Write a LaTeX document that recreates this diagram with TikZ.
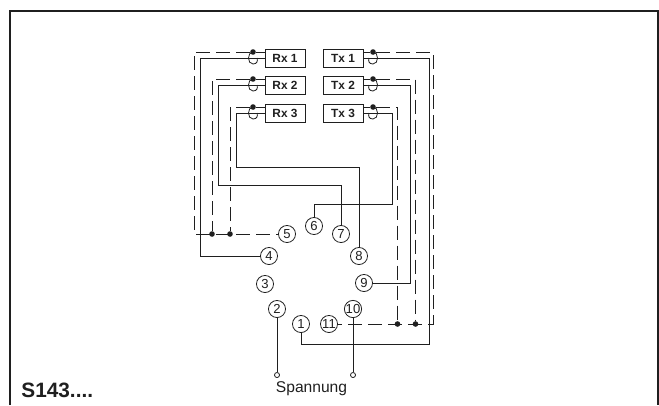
\documentclass[tikz,border=0pt]{standalone}
\usepackage{fontspec}
\setmainfont{Liberation Sans}

\begin{document}
\begin{tikzpicture}[x=.75pt,y=-.75pt,line width=.6pt,color=black!88,
   chan/.style={draw,minimum width=30pt,minimum height=13.5pt,inner sep=0pt,font=\fontsize{8.9}{10}\selectfont\bfseries},
   pin/.style={draw,circle,minimum size=12.8pt,inner sep=0pt,font=\fontsize{9.8}{10}\selectfont},
   term/.style={draw,circle,minimum size=3.8pt,inner sep=0pt},
   dot/.style={fill,circle,minimum size=4.2pt,inner sep=0pt},
   shield/.style={dash pattern=on 10.5pt off 4.5pt}]
   \useasboundingbox (0,0) rectangle (659,405);

   \node[chan] (rx1) at (285,58) {Rx 1};
   \node[chan] (rx2) at (285,85.5) {Rx 2};
   \node[chan] (rx3) at (285,113) {Rx 3};
   \node[chan] (tx1) at (343,58) {Tx 1};
   \node[chan] (tx2) at (343,85.5) {Tx 2};
   \node[chan] (tx3) at (343,113) {Tx 3};

   \node[pin] (c1) at (301,324) {1};
   \node[pin] (c2) at (277,309) {2};
   \node[pin] (c3) at (265,284) {3};
   \node[pin] (c4) at (269,256) {4};
   \node[pin] (c5) at (287,234) {5};
   \node[pin] (c6) at (314,226) {6};
   \node[pin] (c7) at (341,234) {7};
   \node[pin] (c8) at (359,256) {8};
   \node[pin] (c9) at (364,283) {9};
   \node[pin] (c10) at (353,309) {10};
   \node[pin] (c11) at (329,324) {11};

   \node[term] (t2) at (277,375) {};
   \node[term] (t10) at (353,375) {};
   \node[anchor=base,inner sep=0pt,font=\fontsize{11.7}{13}\selectfont] (volt) at (311.5,392) {Spannung};
   \node[anchor=base west,inner sep=0pt,font=\fontsize{15.6}{17}\selectfont\bfseries] (type) at (21,397) {S143....};

   \node[dot] (s1) at (253,52) {};
   \node[dot] (s2) at (253,79) {};
   \node[dot] (s3) at (253,107) {};
   \node[dot] (q1) at (373,52) {};
   \node[dot] (q2) at (373,79) {};
   \node[dot] (q3) at (373,107) {};
   \node[dot] (j2) at (212,234) {};
   \node[dot] (j3) at (230,234) {};
   \node[dot] (j9) at (397.5,324) {};
   \node[dot] (j10) at (415.5,324) {};

   \coordinate (k4) at (200,256);
   \coordinate (k5) at (194,234);
   \coordinate (k7) at (218,185);
   \coordinate (k8) at (236,167);
   \coordinate (k6) at (392,204);
   \coordinate (k9) at (410,283);
   \coordinate (k1) at (429,344);
   \coordinate (k11) at (433,324);
   \coordinate (f1) at (10,405);
   \coordinate (f2) at (10,11);
   \coordinate (f3) at (658,11);
   \coordinate (f4) at (658,405);

   % frame, open at the bottom
   \draw[line width=.8pt] (f1) -- (f2) -- (f3) -- (f4);

   % signal wires
   \draw (rx1) -| (k4) -- (c4);
   \draw (rx2) -| (k7) -| (c7);
   \draw (rx3) -| (k8) -| (c8);
   \draw (tx1) -| (k1) -| (c1);
   \draw (tx2) -| (k9) -- (c9);
   \draw (tx3) -| (k6) -| (c6);
   \draw (c2) -- (t2);
   \draw (c10) -- (t10);

   % shields
   \draw[shield] (s1) -| (k5) -- (c5);
   \draw[shield] (s2) -| (j2);
   \draw[shield] (s3) -| (j3);
   \draw[shield] (q1) -| (k11) -- (c11);
   \draw[shield] (q2) -| (j10);
   \draw[shield] (q3) -| (j9);
   \draw (s1) -- (s1 -| rx1.west);
   \draw (s2) -- (s2 -| rx2.west);
   \draw (s3) -- (s3 -| rx3.west);
   \draw (q1) -- (q1 -| tx1.east);
   \draw (q2) -- (q2 -| tx2.east);
   \draw (q3) -- (q3 -| tx3.east);

   % cable loops
   \draw (s1.center) .. controls +(-6,0) and +(-6,0) .. ++(0,12) .. controls +(4,0) and +(1,3) .. ++(4,-6);
   \draw (s2.center) .. controls +(-6,0) and +(-6,0) .. ++(0,12) .. controls +(4,0) and +(1,3) .. ++(4,-6);
   \draw (s3.center) .. controls +(-6,0) and +(-6,0) .. ++(0,12) .. controls +(4,0) and +(1,3) .. ++(4,-6);
   \draw (q1.center) .. controls +(6,0) and +(6,0) .. ++(0,12) .. controls +(-4,0) and +(-1,3) .. ++(-4,-6);
   \draw (q2.center) .. controls +(6,0) and +(6,0) .. ++(0,12) .. controls +(-4,0) and +(-1,3) .. ++(-4,-6);
   \draw (q3.center) .. controls +(6,0) and +(6,0) .. ++(0,12) .. controls +(-4,0) and +(-1,3) .. ++(-4,-6);
\end{tikzpicture}
\end{document}
